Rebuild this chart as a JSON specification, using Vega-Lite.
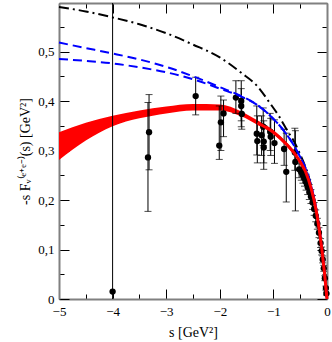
{
  "$schema": "https://vega.github.io/schema/vega-lite/v6.json",
  "width": 268,
  "height": 296,
  "autosize": {"type": "none"},
  "padding": {"left": 59, "top": 3, "right": 5, "bottom": 43},
  "config": {
    "view": {"stroke": null},
    "axis": {
      "domainColor": "#808080",
      "domainWidth": 2,
      "tickColor": "black",
      "tickWidth": 1,
      "labelFont": "Liberation Serif",
      "labelFontSize": 13,
      "labelColor": "black",
      "titleFont": "Liberation Serif",
      "titleFontSize": 14,
      "titleFontWeight": "normal",
      "titleColor": "black",
      "grid": false,
      "labelFlush": false,
      "labelOverlap": false
    }
  },
  "datasets": {
    "band": [
      {"s": -5, "lo": 0.281, "hi": 0.337},
      {"s": -4.5, "lo": 0.320, "hi": 0.356},
      {"s": -4, "lo": 0.349, "hi": 0.370},
      {"s": -3.5, "lo": 0.365, "hi": 0.381},
      {"s": -3, "lo": 0.375, "hi": 0.389},
      {"s": -2.5, "lo": 0.381, "hi": 0.394},
      {"s": -2, "lo": 0.381, "hi": 0.393},
      {"s": -1.6, "lo": 0.369, "hi": 0.379},
      {"s": -1.3, "lo": 0.352, "hi": 0.361},
      {"s": -1.0, "lo": 0.333, "hi": 0.341},
      {"s": -0.75, "lo": 0.308, "hi": 0.316},
      {"s": -0.6, "lo": 0.289, "hi": 0.297},
      {"s": -0.5, "lo": 0.273, "hi": 0.281},
      {"s": -0.4, "lo": 0.253, "hi": 0.261},
      {"s": -0.3, "lo": 0.222, "hi": 0.228},
      {"s": -0.2, "lo": 0.175, "hi": 0.181},
      {"s": -0.1, "lo": 0.102, "hi": 0.106},
      {"s": -0.05, "lo": 0.055, "hi": 0.057},
      {"s": 0, "lo": 0, "hi": 0}
    ],
    "redline": [
      {"s": -1.3, "y": 0.356},
      {"s": -1.0, "y": 0.337},
      {"s": -0.75, "y": 0.312},
      {"s": -0.6, "y": 0.293},
      {"s": -0.5, "y": 0.277},
      {"s": -0.4, "y": 0.257},
      {"s": -0.3, "y": 0.225},
      {"s": -0.2, "y": 0.178},
      {"s": -0.1, "y": 0.104},
      {"s": -0.05, "y": 0.056},
      {"s": 0, "y": 0}
    ],
    "blueA": [
      {"s": -5, "y": 0.518},
      {"s": -4.5, "y": 0.507},
      {"s": -4, "y": 0.496},
      {"s": -3.5, "y": 0.484},
      {"s": -3, "y": 0.469},
      {"s": -2.5, "y": 0.450},
      {"s": -2, "y": 0.428},
      {"s": -1.6, "y": 0.410},
      {"s": -1.3, "y": 0.392},
      {"s": -1.0, "y": 0.364},
      {"s": -0.75, "y": 0.332},
      {"s": -0.6, "y": 0.307},
      {"s": -0.5, "y": 0.287},
      {"s": -0.4, "y": 0.264},
      {"s": -0.3, "y": 0.230},
      {"s": -0.2, "y": 0.181},
      {"s": -0.1, "y": 0.106},
      {"s": -0.05, "y": 0.057},
      {"s": 0, "y": 0}
    ],
    "blueB": [
      {"s": -5, "y": 0.485},
      {"s": -4.5, "y": 0.481},
      {"s": -4, "y": 0.476},
      {"s": -3.5, "y": 0.468},
      {"s": -3, "y": 0.458},
      {"s": -2.5, "y": 0.444},
      {"s": -2, "y": 0.425},
      {"s": -1.6, "y": 0.409},
      {"s": -1.3, "y": 0.392},
      {"s": -1.0, "y": 0.364},
      {"s": -0.75, "y": 0.332},
      {"s": -0.6, "y": 0.307},
      {"s": -0.5, "y": 0.287},
      {"s": -0.4, "y": 0.264},
      {"s": -0.3, "y": 0.230},
      {"s": -0.2, "y": 0.181},
      {"s": -0.1, "y": 0.106},
      {"s": -0.05, "y": 0.057},
      {"s": 0, "y": 0}
    ],
    "dashdot": [
      {"s": -5, "y": 0.590},
      {"s": -4.5, "y": 0.581},
      {"s": -4, "y": 0.569},
      {"s": -3.5, "y": 0.555},
      {"s": -3, "y": 0.537},
      {"s": -2.5, "y": 0.514},
      {"s": -2, "y": 0.488},
      {"s": -1.6, "y": 0.457},
      {"s": -1.3, "y": 0.430},
      {"s": -1.06, "y": 0.395},
      {"s": -0.9, "y": 0.370},
      {"s": -0.75, "y": 0.342},
      {"s": -0.6, "y": 0.315},
      {"s": -0.5, "y": 0.292},
      {"s": -0.4, "y": 0.266},
      {"s": -0.3, "y": 0.231},
      {"s": -0.2, "y": 0.182},
      {"s": -0.1, "y": 0.106},
      {"s": -0.05, "y": 0.057},
      {"s": 0, "y": 0}
    ],
    "pts": [
      {"s": -4.0, "y": 0.015, "lo": -0.1, "hi": 0.7},
      {"s": -3.32, "y": 0.337, "lo": 0.261, "hi": 0.413},
      {"s": -3.34, "y": 0.286, "lo": 0.177, "hi": 0.397},
      {"s": -2.45, "y": 0.410, "lo": 0.372, "hi": 0.448},
      {"s": -2.01, "y": 0.310, "lo": 0.282, "hi": 0.390},
      {"s": -1.98, "y": 0.357, "lo": 0.300, "hi": 0.410},
      {"s": -1.93, "y": 0.375, "lo": 0.328, "hi": 0.402},
      {"s": -1.70, "y": 0.407, "lo": 0.375, "hi": 0.441},
      {"s": -1.60, "y": 0.400, "lo": 0.348, "hi": 0.441},
      {"s": -1.60, "y": 0.390, "lo": 0.360, "hi": 0.425},
      {"s": -1.59, "y": 0.374, "lo": 0.343, "hi": 0.405},
      {"s": -1.31, "y": 0.334, "lo": 0.291, "hi": 0.390},
      {"s": -1.30, "y": 0.319, "lo": 0.275, "hi": 0.370},
      {"s": -1.22, "y": 0.331, "lo": 0.290, "hi": 0.370},
      {"s": -1.19, "y": 0.348, "lo": 0.310, "hi": 0.386},
      {"s": -1.18, "y": 0.318, "lo": 0.275, "hi": 0.360},
      {"s": -1.18, "y": 0.306, "lo": 0.262, "hi": 0.350},
      {"s": -1.06, "y": 0.338, "lo": 0.300, "hi": 0.375},
      {"s": -1.05, "y": 0.328, "lo": 0.290, "hi": 0.365},
      {"s": -0.98, "y": 0.315, "lo": 0.274, "hi": 0.362},
      {"s": -0.80, "y": 0.303, "lo": 0.270, "hi": 0.343},
      {"s": -0.76, "y": 0.257, "lo": 0.196, "hi": 0.335},
      {"s": -0.60, "y": 0.296, "lo": 0.260, "hi": 0.345},
      {"s": -0.59, "y": 0.277, "lo": 0.178, "hi": 0.340},
      {"s": -0.52, "y": 0.262, "lo": 0.245, "hi": 0.280},
      {"s": -0.48, "y": 0.256, "lo": 0.240, "hi": 0.273},
      {"s": -0.45, "y": 0.250, "lo": 0.234, "hi": 0.266},
      {"s": -0.42, "y": 0.244, "lo": 0.228, "hi": 0.260},
      {"s": -0.39, "y": 0.236, "lo": 0.220, "hi": 0.252},
      {"s": -0.36, "y": 0.226, "lo": 0.211, "hi": 0.241},
      {"s": -0.33, "y": 0.216, "lo": 0.201, "hi": 0.231},
      {"s": -0.30, "y": 0.207, "lo": 0.193, "hi": 0.221},
      {"s": -0.27, "y": 0.195, "lo": 0.181, "hi": 0.209},
      {"s": -0.24, "y": 0.182, "lo": 0.169, "hi": 0.195},
      {"s": -0.21, "y": 0.168, "lo": 0.156, "hi": 0.180},
      {"s": -0.18, "y": 0.152, "lo": 0.141, "hi": 0.163},
      {"s": -0.15, "y": 0.134, "lo": 0.124, "hi": 0.144},
      {"s": -0.12, "y": 0.113, "lo": 0.104, "hi": 0.122},
      {"s": -0.10, "y": 0.097, "lo": 0.089, "hi": 0.105},
      {"s": -0.08, "y": 0.080, "lo": 0.073, "hi": 0.087},
      {"s": -0.06, "y": 0.062, "lo": 0.056, "hi": 0.068},
      {"s": -0.04, "y": 0.042, "lo": 0.037, "hi": 0.047},
      {"s": -0.02, "y": 0.022, "lo": 0.018, "hi": 0.026},
      {"s": -0.01, "y": 0.011, "lo": 0.008, "hi": 0.014}
    ]
  },
  "layer": [
    {
      "data": {"name": "band"},
      "mark": {"type": "area", "color": "#ff0000", "interpolate": "monotone"},
      "encoding": {
        "x": {"field": "s", "type": "quantitative", "scale": {"domain": [-5, 0], "nice": false, "zero": false},
          "axis": {"orient": "bottom", "title": "s [GeV²]", "values": [-5, -4.5, -4, -3.5, -3, -2.5, -2, -1.5, -1, -0.5, 0],
            "tickSize": {"condition": {"test": "datum.value % 1 === 0", "value": -10}, "value": -5},
            "labelPadding": 16,
            "labelExpr": "datum.value % 1 === 0 ? format(datum.value, 'd') : ''",
            "titlePadding": 2}},
        "y": {"field": "lo", "type": "quantitative", "scale": {"domain": [0, 0.598], "nice": false, "zero": false},
          "axis": {"orient": "left", "title": "-s Fᵥ⁽ᵉ⁺ᵉ⁻⁾(s) [GeV²]", "values": [0, 0.05, 0.1, 0.15, 0.2, 0.25, 0.3, 0.35, 0.4, 0.45, 0.5, 0.55],
            "tickSize": {"condition": {"test": "round(datum.value * 100) % 10 === 0", "value": -10}, "value": -5},
            "labelPadding": 15,
            "labelExpr": "round(datum.value * 100) % 10 === 0 ? (datum.value === 0 ? '0' : replace(format(datum.value, '.1f'), '.', ',')) : ''",
            "titlePadding": 5}},
        "y2": {"field": "hi"}
      }
    },
    {
      "data": {"name": "pts"},
      "mark": {"type": "rule", "color": "black", "strokeWidth": 1, "clip": true},
      "encoding": {
        "x": {"field": "s", "type": "quantitative", "scale": {"domain": [-5, 0], "nice": false, "zero": false},
          "axis": {"orient": "top", "title": null, "values": [-5, -4.5, -4, -3.5, -3, -2.5, -2, -1.5, -1, -0.5, 0],
            "tickSize": {"condition": {"test": "datum.value % 1 === 0", "value": -10}, "value": -5},
            "labels": false}},
        "y": {"field": "lo", "type": "quantitative", "scale": {"domain": [0, 0.598], "nice": false, "zero": false},
          "axis": {"orient": "right", "title": null, "values": [0, 0.05, 0.1, 0.15, 0.2, 0.25, 0.3, 0.35, 0.4, 0.45, 0.5, 0.55],
            "tickSize": {"condition": {"test": "round(datum.value * 100) % 10 === 0", "value": -10}, "value": -5},
            "labels": false}},
        "y2": {"field": "hi"}
      }
    },
    {
      "data": {"name": "pts"},
      "mark": {"type": "tick", "orient": "horizontal", "size": 7, "thickness": 1, "color": "black", "clip": true},
      "encoding": {
        "x": {"field": "s", "type": "quantitative", "scale": {"domain": [-5, 0], "nice": false, "zero": false}, "axis": null},
        "y": {"field": "lo", "type": "quantitative", "scale": {"domain": [0, 0.598], "nice": false, "zero": false}, "axis": null}
      }
    },
    {
      "data": {"name": "pts"},
      "mark": {"type": "tick", "orient": "horizontal", "size": 7, "thickness": 1, "color": "black", "clip": true},
      "encoding": {
        "x": {"field": "s", "type": "quantitative", "scale": {"domain": [-5, 0], "nice": false, "zero": false}, "axis": null},
        "y": {"field": "hi", "type": "quantitative", "scale": {"domain": [0, 0.598], "nice": false, "zero": false}, "axis": null}
      }
    },
    {
      "data": {"name": "pts"},
      "mark": {"type": "point", "filled": true, "shape": "circle", "size": 40, "color": "black", "opacity": 1},
      "encoding": {
        "x": {"field": "s", "type": "quantitative", "scale": {"domain": [-5, 0], "nice": false, "zero": false}, "axis": null},
        "y": {"field": "y", "type": "quantitative", "scale": {"domain": [0, 0.598], "nice": false, "zero": false}, "axis": null}
      }
    },
    {
      "data": {"name": "dashdot"},
      "mark": {"type": "line", "color": "black", "strokeWidth": 2, "strokeDash": [10, 4, 2, 4], "interpolate": "monotone"},
      "encoding": {
        "x": {"field": "s", "type": "quantitative", "scale": {"domain": [-5, 0], "nice": false, "zero": false}, "axis": null},
        "y": {"field": "y", "type": "quantitative", "scale": {"domain": [0, 0.598], "nice": false, "zero": false}, "axis": null}
      }
    },
    {
      "data": {"name": "blueA"},
      "mark": {"type": "line", "color": "#0000ff", "strokeWidth": 2, "strokeDash": [9, 5], "interpolate": "monotone"},
      "encoding": {
        "x": {"field": "s", "type": "quantitative", "scale": {"domain": [-5, 0], "nice": false, "zero": false}, "axis": null},
        "y": {"field": "y", "type": "quantitative", "scale": {"domain": [0, 0.598], "nice": false, "zero": false}, "axis": null}
      }
    },
    {
      "data": {"name": "blueB"},
      "mark": {"type": "line", "color": "#0000ff", "strokeWidth": 2, "strokeDash": [9, 5], "interpolate": "monotone"},
      "encoding": {
        "x": {"field": "s", "type": "quantitative", "scale": {"domain": [-5, 0], "nice": false, "zero": false}, "axis": null},
        "y": {"field": "y", "type": "quantitative", "scale": {"domain": [0, 0.598], "nice": false, "zero": false}, "axis": null}
      }
    },
    {
      "data": {"name": "redline"},
      "mark": {"type": "line", "color": "#ff0000", "strokeWidth": 3, "interpolate": "monotone"},
      "encoding": {
        "x": {"field": "s", "type": "quantitative", "scale": {"domain": [-5, 0], "nice": false, "zero": false}, "axis": null},
        "y": {"field": "y", "type": "quantitative", "scale": {"domain": [0, 0.598], "nice": false, "zero": false}, "axis": null}
      }
    }
  ],
  "resolve": {"axis": {"x": "independent", "y": "independent"}}
}
